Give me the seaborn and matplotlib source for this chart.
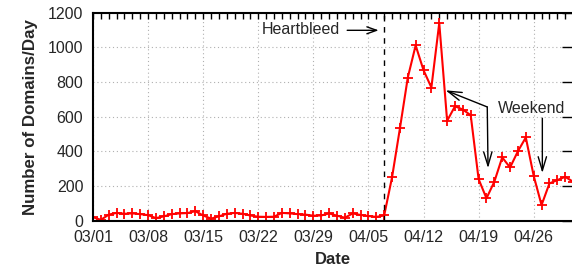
import pandas as pd
import matplotlib
matplotlib.use("Agg")
import matplotlib.pyplot as plt
import matplotlib.dates as mdates
import seaborn as sns

# Datos: dominios por día (03/01/2014 - 05/01/2014)
start_date = "2014-03-01"
domains_per_day = [
    20, 5, 35, 45, 40, 42, 38, 32, 15, 25, 38, 42, 44, 55, 30, 12,
    25, 40, 45, 40, 30, 23, 22, 23, 45, 42, 38, 35, 29, 30, 42,
    29, 17, 42, 33, 27, 22, 30, 250, 532, 825, 1011, 868, 768, 1140,
    576, 660, 641, 608, 240, 129, 225, 365, 307, 401, 480, 259, 90,
    215, 234, 253, 225,
]
tick_labels = ["03/01", "03/08", "03/15", "03/22", "03/29",
               "04/05", "04/12", "04/19", "04/26"]
y_ticks = [0, 200, 400, 600, 800, 1000, 1200]
heartbleed_date = "2014-04-07"

dates = pd.date_range(start_date, periods=len(domains_per_day), freq="D")
df = pd.DataFrame({"date": dates, "domains": domains_per_day})
t0 = pd.Timestamp(start_date)
day = lambda d: t0 + pd.Timedelta(days=d)

sns.set_style("white")
plt.rcParams["font.family"] = ["Liberation Sans", "DejaVu Sans"]

fig = plt.figure(figsize=(5.72, 2.72), dpi=100)
ax = fig.add_axes([0.1626, 0.1886, 0.8392, 0.765])

sns.lineplot(data=df, x="date", y="domains", ax=ax, color="red",
             linewidth=1.5, marker="+", markersize=6.5,
             markeredgecolor="red", markeredgewidth=1.3)

ax.set_xlim(t0, day(61))
ax.set_ylim(0, 1200)
ax.set_yticks(y_ticks)
ax.set_xticks([pd.Timestamp("2014-" + l.replace("/", "-")) for l in tick_labels])
ax.set_xticklabels(tick_labels)
ax.xaxis.set_minor_locator(mdates.DayLocator())

ax.grid(True, which="major", color="#b0b0b0", linestyle=(0, (1, 2.5)), linewidth=0.8)
ax.tick_params(axis="both", which="both", direction="in", top=True, right=True,
               labelsize=11.5, color="black")
ax.tick_params(axis="x", which="both", length=4, width=1, pad=7)
ax.tick_params(axis="y", which="major", length=8, width=1, pad=7)
for s in ax.spines.values():
    s.set_color("black")
    s.set_linewidth(1.5)

ax.set_xlabel("Date", fontsize=12, fontweight="bold", labelpad=5)
ax.set_ylabel("Number of Domains/Day", fontsize=12.2, fontweight="bold", labelpad=7)

# Heartbleed
ax.axvline(pd.Timestamp(heartbleed_date), color="black", linestyle=(0, (4, 4)), linewidth=1)
ax.text(day(31.4), 1104, "Heartbleed", ha="right", va="center", fontsize=11.5)
ax.annotate("", xy=(day(36.3), 1098), xytext=(day(32.3), 1098),
            arrowprops=dict(arrowstyle="->,head_length=0.7,head_width=0.25",
                            color="black", lw=1, shrinkA=0, shrinkB=0))

# Weekend
ax.text(day(51.4), 649, "Weekend", ha="left", va="center", fontsize=11.5)
arrow = dict(arrowstyle="->,head_length=1.0,head_width=0.3", color="black",
             lw=1, shrinkA=0, shrinkB=0)
ax.annotate("", xy=(day(44.8), 752), xytext=(day(50.1), 656), arrowprops=arrow)
ax.annotate("", xy=(day(50.2), 303), xytext=(day(50.1), 656), arrowprops=arrow)
ax.annotate("", xy=(day(57.1), 275), xytext=(day(57.1), 591), arrowprops=arrow)

plt.savefig("out.png", dpi=100)
